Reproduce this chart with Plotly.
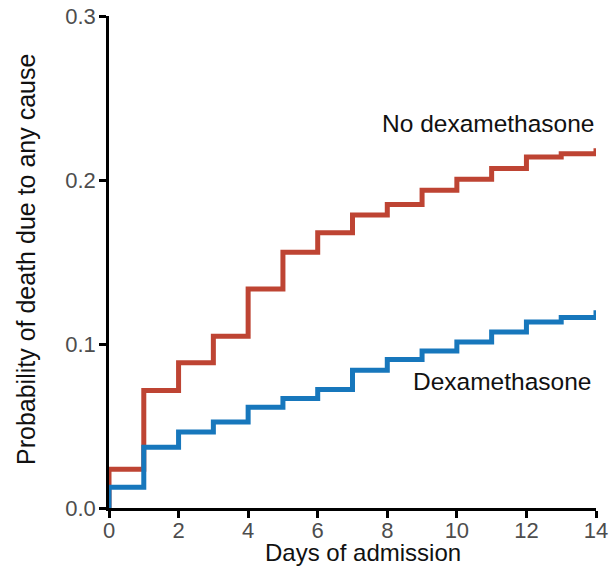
import plotly.graph_objects as go

# Data (step functions, values at the start of each day)
days = [0, 0, 1, 2, 3, 4, 5, 6, 7, 8, 9, 10, 11, 12, 13, 14]
no_dexa = [0.0, 0.0237, 0.0717, 0.0886, 0.1047, 0.1336, 0.156, 0.1678, 0.1787,
           0.185, 0.1938, 0.2005, 0.207, 0.214, 0.216, 0.2193]
dexa = [0.0, 0.0127, 0.0371, 0.0463, 0.0524, 0.0615, 0.0667, 0.0722, 0.084,
        0.0905, 0.0957, 0.1012, 0.1073, 0.1134, 0.1161, 0.1206]

x_ticks = [0, 2, 4, 6, 8, 10, 12, 14]
y_ticks = [0.0, 0.1, 0.2, 0.3]
y_ticklabels = ["0.0", "0.1", "0.2", "0.3"]

RED = "#BE4433"
BLUE = "#1777BC"
FONT = "Liberation Sans, Arial, sans-serif"

fig = go.Figure()
fig.add_trace(go.Scatter(x=days, y=no_dexa, mode="lines", line=dict(color=RED, width=5, shape="hv"),
                         name="No dexamethasone", showlegend=False, hoverinfo="skip"))
fig.add_trace(go.Scatter(x=days, y=dexa, mode="lines", line=dict(color=BLUE, width=5, shape="hv"),
                         name="Dexamethasone", showlegend=False, hoverinfo="skip"))

W, H = 610, 574
ml, mr, mt, mb = 109, 14, 16, 66
pw, ph = W - ml - mr, H - mt - mb

def px_x(px):
    return (px - ml) / pw

def px_y(py):
    return (H - mb - py) / ph

axis_common = dict(showline=True, linecolor="black", linewidth=2.5, ticks="outside", ticklen=7,
                   tickwidth=2.5, tickcolor="black", showgrid=False, zeroline=False,
                   automargin=False,
                   tickfont=dict(family=FONT, size=22, color="#4D4D4D"))

fig.update_layout(
    width=W, height=H, autosize=False,
    margin=dict(l=ml, r=mr, t=mt, b=mb, autoexpand=False),
    plot_bgcolor="white", paper_bgcolor="white",
    xaxis=dict(range=[0, 14], tickvals=x_ticks, ticklabelstandoff=-6, **axis_common),
    yaxis=dict(range=[0, 0.3], tickvals=y_ticks, ticktext=y_ticklabels, ticklabelstandoff=-1, **axis_common),
    annotations=[
        dict(text="No dexamethasone", x=px_x(596), y=px_y(123), xref="paper", yref="paper",
             xanchor="right", yanchor="middle", showarrow=False,
             font=dict(family=FONT, size=24.5, color="#111111")),
        dict(text="Dexamethasone", x=px_x(593), y=px_y(381), xref="paper", yref="paper",
             xanchor="right", yanchor="middle", showarrow=False,
             font=dict(family=FONT, size=24.5, color="#111111")),
        dict(text="Days of admission", x=px_x(363), y=px_y(552), xref="paper", yref="paper",
             xanchor="center", yanchor="middle", showarrow=False,
             font=dict(family=FONT, size=24, color="#111111")),
        dict(text="Probability of death due to any cause", x=px_x(26), y=px_y(260), xref="paper", yref="paper",
             xanchor="center", yanchor="middle", showarrow=False, textangle=-90,
             font=dict(family=FONT, size=25, color="#111111")),
    ],
)

fig.write_html("out.html")
